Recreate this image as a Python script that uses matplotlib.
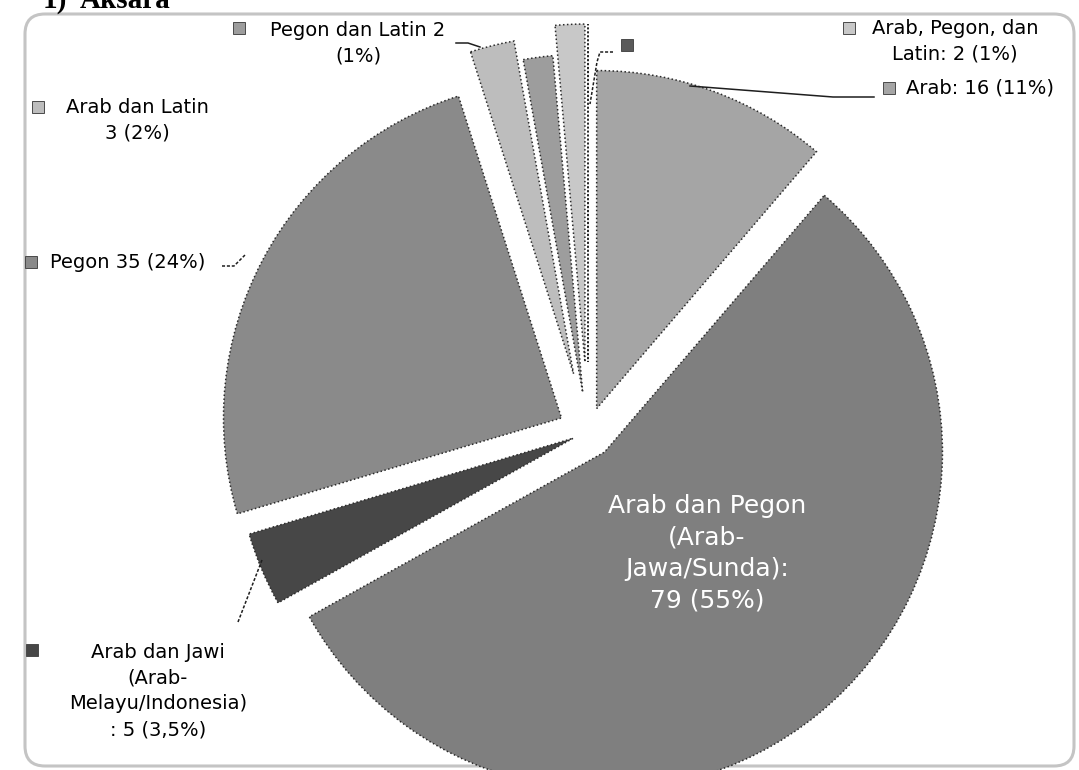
import numpy as np
import matplotlib
matplotlib.use("Agg")
import matplotlib.pyplot as plt
from matplotlib.patches import FancyBboxPatch

# aksara categories, clockwise from 12 o'clock
names = ["Arab", "Arab dan Pegon (Arab-Jawa/Sunda)", "Arab dan Jawi (Arab-Melayu/Indonesia)",
         "Pegon", "Arab dan Latin", "Pegon dan Latin", "Arab, Pegon, dan Latin", ""]
counts = [16, 79, 5, 35, 3, 2, 2, 0]
pct_text = ["11%", "55%", "3,5%", "24%", "2%", "1%", "1%", ""]
colors = ["#a5a5a5", "#7f7f7f", "#474747", "#8a8a8a", "#bdbdbd", "#9d9d9d", "#c8c8c8", "#5a5a5a"]

W, H = 1079, 770
fig = plt.figure(figsize=(W / 100, H / 100), dpi=100)
ax = fig.add_axes([0, 0, 1, 1])
ax.set_xlim(0, W)
ax.set_ylim(H, 0)
ax.axis("off")

# chart frame
frame = FancyBboxPatch((25, 14), 1049, 752, boxstyle="round,pad=0,rounding_size=20",
                       fc="white", ec="#c4c4c4", lw=2.2, zorder=0)
ax.add_patch(frame)

ax.text(43, 8, "1)", fontsize=21, fontweight="bold", family="Liberation Serif",
        va="baseline", ha="left")
ax.text(80, 8, "Aksara", fontsize=21, fontweight="bold", family="Liberation Serif",
        va="baseline", ha="left")

# pie in pixel space (y axis points down, so angles run the other way)
cx, cy, r = 588, 432, 338
explode = [25, 26, 16, 30, 60, 40, 70, 70]
wedges, _ = ax.pie(counts, colors=colors, startangle=-90, counterclock=True,
                   radius=r, center=(cx, cy), explode=explode, frame=True,
                   wedgeprops=dict(ec="#2a2a2a", lw=1.1, ls=(0, (1, 1.6))))
ax.set_xlim(0, W)
ax.set_ylim(H, 0)
ax.set_aspect("auto")
ax.axis("off")
for w in wedges:
    w.set_clip_path(frame)

lab_font = dict(fontsize=14, family="DejaVu Sans", linespacing=1.45)


def key(x, y, c):
    ax.add_patch(plt.Rectangle((x, y - 6), 12, 12, fc=c, ec="#4a4a4a", lw=0.7, zorder=3))


def leader(xs, ys, dashed=False):
    ax.plot(xs, ys, color="#1e1e1e", lw=1.1, ls=(0, (2, 1.2)) if dashed else "-", zorder=3)


# Arab dan Pegon sits inside its slice
ax.text(707, 553, "Arab dan Pegon\n(Arab-\nJawa/Sunda):\n%d (%s)" % (counts[1], pct_text[1]),
        ha="center", va="center", color="white", linespacing=1.4, fontsize=18,
        family="DejaVu Sans")

# Arab
key(883, 88, colors[0])
ax.text(906, 88, "%s: %d (%s)" % (names[0], counts[0], pct_text[0]), va="center", **lab_font)
leader([874, 833, 690], [97, 97, 86])

# Arab, Pegon, dan Latin
key(843, 28, colors[6])
ax.text(955, 41, "Arab, Pegon, dan\nLatin: %d (%s)" % (counts[6], pct_text[6]),
        ha="center", va="center", **lab_font)

# category without a count
key(621, 45, colors[7])
leader([613, 600, 597, 590], [52, 52, 62, 104], dashed=True)

# Pegon dan Latin
key(233, 28, colors[5])
ax.text(358, 43, "%s %d\n(%s)" % (names[5], counts[5], pct_text[5]), ha="center", va="center",
        **lab_font)
leader([456, 468, 480], [43, 43, 47])

# Arab dan Latin
key(32, 107, colors[4])
ax.text(137, 120, "%s\n%d (%s)" % (names[4], counts[4], pct_text[4]), ha="center", va="center",
        **lab_font)

# Pegon
key(25, 262, colors[3])
ax.text(50, 263, "%s %d (%s)" % (names[3], counts[3], pct_text[3]), va="center", **lab_font)
leader([222, 234, 246], [266, 266, 254], dashed=True)

# Arab dan Jawi
key(26, 650, colors[2])
ax.text(158, 691, "Arab dan Jawi\n(Arab-\nMelayu/Indonesia)\n: %d (%s)" % (counts[2], pct_text[2]),
        ha="center", va="center", **lab_font)
leader([238, 262], [622, 560], dashed=True)

fig.savefig("out.png", dpi=100)
